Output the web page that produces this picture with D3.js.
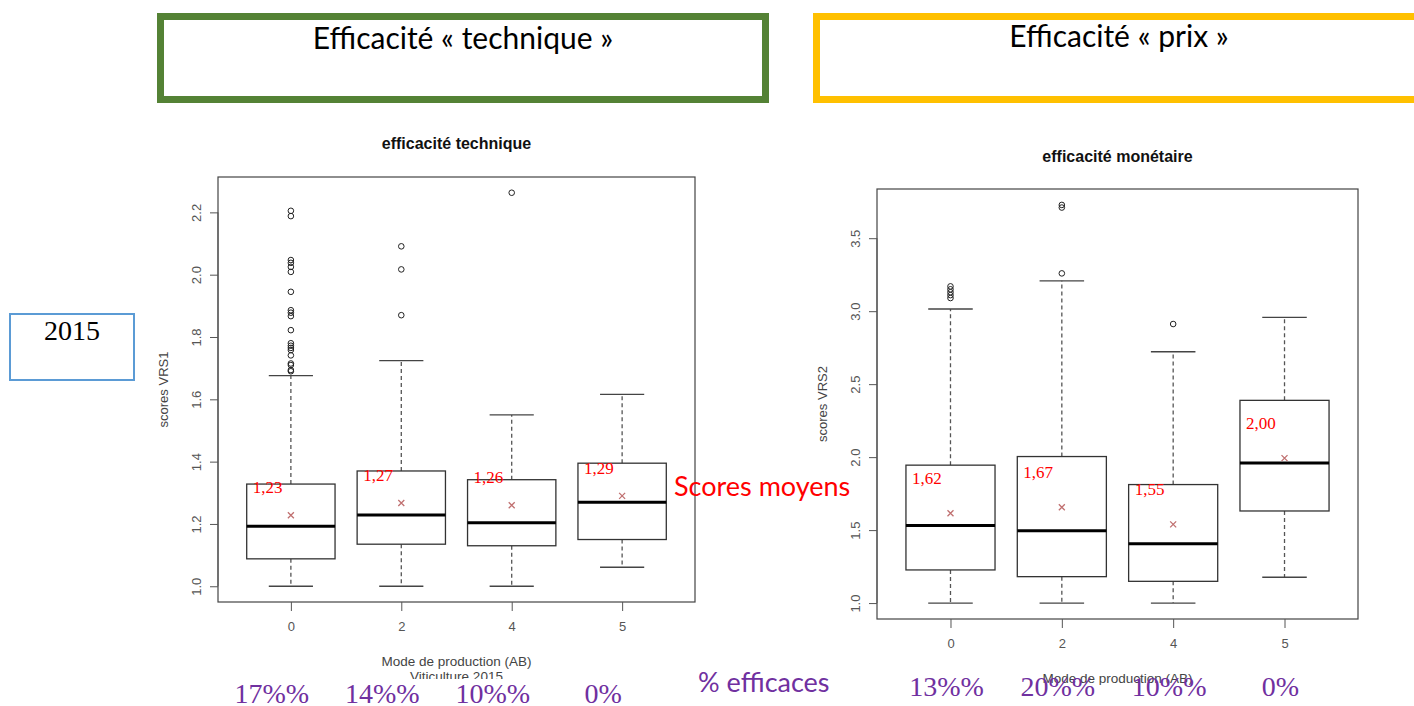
<!DOCTYPE html>
<html><head><meta charset="utf-8">
<script src="https://cdn.jsdelivr.net/npm/d3@7"></script>
<style>body{margin:0;background:#fff}svg{display:block}</style>
</head><body>
<script>
// ---------- DATA ----------
const categories = ["0","2","4","5"];

// Efficacité technique (scores VRS1)
const techLow     = [1.000, 1.000, 1.000, 1.061];
const techQ1      = [1.088, 1.135, 1.130, 1.150];
const techMedian  = [1.193, 1.229, 1.204, 1.270];
const techQ3      = [1.328, 1.370, 1.342, 1.395];
const techHigh    = [1.676, 1.724, 1.550, 1.616];
const techMean    = [1.228, 1.267, 1.260, 1.290];
const techOutliers = [
  [2.205, 2.188, 2.047, 2.038, 2.025, 2.009, 1.945, 1.886, 1.878, 1.867, 1.822,
   1.780, 1.772, 1.765, 1.758, 1.741, 1.715, 1.710, 1.694, 1.690],
  [2.091, 2.017, 1.870],
  [2.263],
  []
];
const techTicks = [1.0, 1.2, 1.4, 1.6, 1.8, 2.0, 2.2];
const techMeanLabels = ["1,23", "1,27", "1,26", "1,29"];
const techEfficient = ["17%%", "14%%", "10%%", "0%"];

// Efficacité monétaire (scores VRS2)
const prixLow     = [1.000, 1.000, 1.000, 1.177];
const prixQ1      = [1.227, 1.181, 1.149, 1.631];
const prixMedian  = [1.532, 1.495, 1.406, 1.959];
const prixQ3      = [1.945, 2.004, 1.812, 2.389];
const prixHigh    = [3.015, 3.208, 2.722, 2.958];
const prixMean    = [1.615, 1.656, 1.539, 1.993];
const prixOutliers = [
  [3.09, 3.11, 3.13, 3.15, 3.17],
  [3.259, 3.710, 3.728],
  [2.912],
  []
];
const prixTicks = [1.0, 1.5, 2.0, 2.5, 3.0, 3.5];
const prixMeanLabels = ["1,62", "1,67", "1,55", "2,00"];
const prixEfficient = ["13%%", "20%%", "10%%", "0%"];

// ---------- DRAW ----------
const W = 1414, H = 706;
const RFONT = "Liberation Sans, Arial, sans-serif";
const svg = d3.select("body").append("svg").attr("width", W).attr("height", H);
svg.append("rect").attr("width", W).attr("height", H).attr("fill", "#fff");
const defs = svg.append("defs");

function drawPlot(o) {
  const clipId = "clip" + o.id;
  defs.append("clipPath").attr("id", clipId).append("rect")
    .attr("x", o.left - 80).attr("y", 0).attr("width", o.right - o.left + 120).attr("height", o.clipBottom);
  const g = svg.append("g").attr("clip-path", `url(#${clipId})`);

  const all = [];
  o.low.forEach((v, i) => { all.push(v, o.high[i], ...o.outliers[i]); });
  const ext = d3.extent(all);
  const pad = (ext[1] - ext[0]) * 0.04;
  const y = d3.scaleLinear().domain([ext[0] - pad, ext[1] + pad]).range([o.bottom, o.top]);
  const x = d3.scaleLinear().domain([1 - 0.5 - 0.16, 4 + 0.5 + 0.16]).range([o.left, o.right]);
  const bw = x(1.4) - x(1);   // half box width (0.4 units)
  const cw = x(1.2) - x(1);   // half cap width

  // frame
  g.append("rect").attr("x", o.left).attr("y", o.top)
    .attr("width", o.right - o.left).attr("height", o.bottom - o.top)
    .attr("fill", "none").attr("stroke", "#444").attr("stroke-width", 1.2);

  // title
  g.append("text").attr("x", (o.left + o.right) / 2).attr("y", o.titleY)
    .attr("text-anchor", "middle").attr("font-family", RFONT)
    .attr("font-weight", "bold").attr("font-size", 16).attr("fill", "#111").text(o.title);

  // y axis
  const yAxis = d3.axisLeft(y).tickValues(o.ticks).tickSize(8).tickFormat(d3.format(".1f"));
  const ya = g.append("g").attr("transform", `translate(${o.left},0)`).call(yAxis);
  ya.select(".domain").remove();
  ya.selectAll(".tick line").attr("stroke", "#555");
  ya.selectAll(".tick text")
    .attr("font-family", RFONT).attr("font-size", 13).attr("fill", "#555")
    .attr("text-anchor", "middle").attr("dy", null).attr("x", null)
    .attr("transform", "translate(-17,0) rotate(-90)");
  g.append("line").attr("x1", o.left).attr("x2", o.left)
    .attr("y1", y(o.ticks[0])).attr("y2", y(o.ticks[o.ticks.length - 1]))
    .attr("stroke", "#555");

  // y title
  g.append("text").attr("transform", `translate(${o.left - 50},${(o.top + o.bottom) / 2}) rotate(-90)`)
    .attr("text-anchor", "middle").attr("font-family", RFONT)
    .attr("font-size", 13).attr("fill", "#444").text(o.yTitle);

  // x axis
  const xAxis = d3.axisBottom(x).tickValues([1, 2, 3, 4]).tickSize(9)
    .tickFormat((d, i) => categories[i]);
  const xa = g.append("g").attr("transform", `translate(0,${o.bottom})`).call(xAxis);
  xa.select(".domain").remove();
  xa.selectAll(".tick line").attr("stroke", "#555");
  xa.selectAll(".tick text").attr("font-family", RFONT)
    .attr("font-size", 13).attr("fill", "#555").attr("y", 20);
  g.append("text").attr("x", (o.left + o.right) / 2).attr("y", o.bottom + 64)
    .attr("text-anchor", "middle").attr("font-family", RFONT)
    .attr("font-size", 13.5).attr("fill", "#444").text("Mode de production (AB)");
  g.append("text").attr("x", (o.left + o.right) / 2).attr("y", o.bottom + 79)
    .attr("text-anchor", "middle").attr("font-family", RFONT)
    .attr("font-size", 13.5).attr("fill", "#444").text("Viticulture 2015");

  // boxes
  categories.forEach((c, i) => {
    const cx = x(i + 1);
    const bg = g.append("g");
    // whiskers
    bg.append("line").attr("x1", cx).attr("x2", cx).attr("y1", y(o.q3[i])).attr("y2", y(o.high[i]))
      .attr("stroke", "#555").attr("stroke-width", 1.3).attr("stroke-dasharray", "4,3");
    bg.append("line").attr("x1", cx).attr("x2", cx).attr("y1", y(o.q1[i])).attr("y2", y(o.low[i]))
      .attr("stroke", "#555").attr("stroke-width", 1.3).attr("stroke-dasharray", "4,3");
    [o.high[i], o.low[i]].forEach(v => {
      bg.append("line").attr("x1", cx - cw).attr("x2", cx + cw).attr("y1", y(v)).attr("y2", y(v))
        .attr("stroke", "#444").attr("stroke-width", 1.3);
    });
    // box
    bg.append("rect").attr("x", cx - bw).attr("y", y(o.q3[i]))
      .attr("width", 2 * bw).attr("height", y(o.q1[i]) - y(o.q3[i]))
      .attr("fill", "#fff").attr("stroke", "#333").attr("stroke-width", 1.3);
    bg.append("line").attr("x1", cx - bw).attr("x2", cx + bw)
      .attr("y1", y(o.median[i])).attr("y2", y(o.median[i]))
      .attr("stroke", "#000").attr("stroke-width", 3);
    // outliers
    bg.selectAll("circle.out").data(o.outliers[i]).enter().append("circle")
      .attr("cx", cx).attr("cy", d => y(d)).attr("r", 2.8)
      .attr("fill", "none").attr("stroke", "#222").attr("stroke-width", 1);
    // mean marker
    const my = y(o.mean[i]), s = 3;
    bg.append("path").attr("d", `M${cx - s},${my - s}L${cx + s},${my + s}M${cx - s},${my + s}L${cx + s},${my - s}`)
      .attr("stroke", "#c07070").attr("stroke-width", 1.3);
    // mean label
    bg.append("text").attr("x", cx - bw + 6).attr("y", my - o.labelOffset)
      .attr("font-family", "Liberation Serif, Times New Roman, serif").attr("font-size", 17)
      .attr("fill", "#ff0000").text(o.meanLabels[i]);
  });

  // % efficaces (slide text, not clipped)
  categories.forEach((c, i) => {
    svg.append("text").attr("x", x(i + 1) + o.pctDx).attr("y", o.pctY)
      .attr("text-anchor", "middle")
      .attr("font-family", "Liberation Serif, Times New Roman, serif").attr("font-size", 28)
      .attr("fill", "#7030a0").text(o.efficient[i]);
  });
}

drawPlot({
  id: "tech", left: 218, right: 695, top: 177, bottom: 602, clipBottom: 679, titleY: 149,
  title: "efficacité technique", yTitle: "scores VRS1",
  low: techLow, q1: techQ1, median: techMedian, q3: techQ3, high: techHigh, mean: techMean,
  outliers: techOutliers, ticks: techTicks, meanLabels: techMeanLabels, efficient: techEfficient,
  labelOffset: 22, pctDx: -19, pctY: 703
});
drawPlot({
  id: "prix", left: 877, right: 1358, top: 189, bottom: 619, clipBottom: 685, titleY: 162,
  title: "efficacité monétaire", yTitle: "scores VRS2",
  low: prixLow, q1: prixQ1, median: prixMedian, q3: prixQ3, high: prixHigh, mean: prixMean,
  outliers: prixOutliers, ticks: prixTicks, meanLabels: prixMeanLabels, efficient: prixEfficient,
  labelOffset: 29, pctDx: -4, pctY: 696
});

// ---------- slide annotations ----------
svg.append("rect").attr("x", 160.5).attr("y", 16.5).attr("width", 605).attr("height", 83)
  .attr("fill", "none").attr("stroke", "#548235").attr("stroke-width", 7);
svg.append("text").attr("x", 463).attr("y", 49).attr("text-anchor", "middle")
  .attr("font-family", "Lato, Carlito, sans-serif").attr("font-size", 30).attr("fill", "#000")
  .text("Efficacité « technique »");

svg.append("rect").attr("x", 816.5).attr("y", 16.5).attr("width", 640).attr("height", 83)
  .attr("fill", "none").attr("stroke", "#ffc000").attr("stroke-width", 7);
svg.append("text").attr("x", 1119).attr("y", 47).attr("text-anchor", "middle")
  .attr("font-family", "Lato, Carlito, sans-serif").attr("font-size", 30).attr("fill", "#000")
  .text("Efficacité « prix »");

svg.append("rect").attr("x", 10).attr("y", 314).attr("width", 124).attr("height", 66)
  .attr("fill", "#fff").attr("stroke", "#5b9bd5").attr("stroke-width", 2);
svg.append("text").attr("x", 72).attr("y", 340).attr("text-anchor", "middle")
  .attr("font-family", "Liberation Serif, Times New Roman, serif").attr("font-size", 28).attr("fill", "#000")
  .text("2015");

svg.append("text").attr("x", 674).attr("y", 496)
  .attr("font-family", "Lato, Carlito, sans-serif").attr("font-size", 27).attr("fill", "#ff0000")
  .text("Scores moyens");

svg.append("text").attr("x", 698).attr("y", 692)
  .attr("font-family", "Lato, Carlito, sans-serif").attr("font-size", 27).attr("fill", "#7030a0")
  .text("% efficaces");
</script>
</body></html>
